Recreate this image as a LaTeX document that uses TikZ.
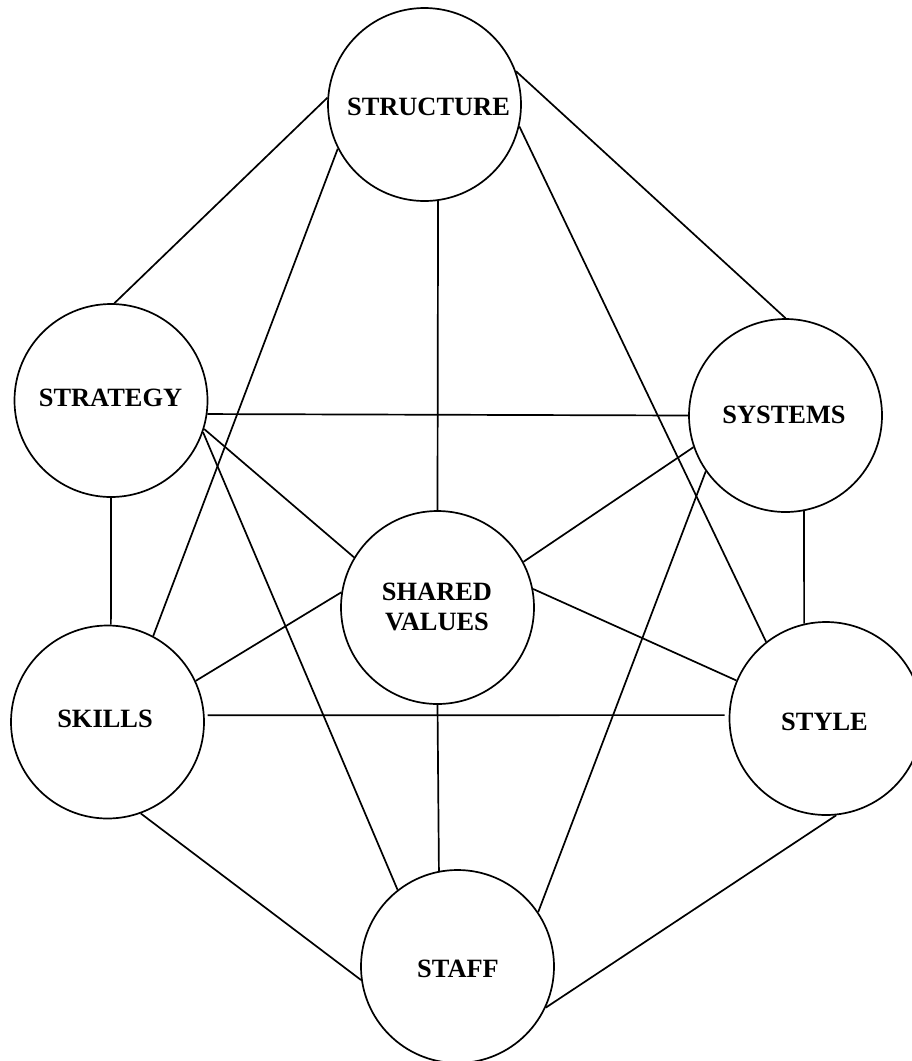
\documentclass[tikz,border=0pt]{standalone}
\usepackage{fontspec}
\setmainfont{Liberation Serif}
\begin{document}
\begin{tikzpicture}[x=1pt,y=-1pt,
  circ/.style={circle,draw=black,line width=1.7pt,minimum size=193pt,inner sep=0pt},
  lbl/.style={font=\fontsize{26.4}{30}\selectfont\bfseries,inner sep=0pt,align=center},
  link/.style={draw=black,line width=1.7pt}]
\useasboundingbox (0,0) rectangle (912,1061);

% the seven circles
\node[circ] (st) at (424.5,104.5) {};
\node[circ] (sg) at (111,400.5) {};
\node[circ] (sy) at (785.5,415.5) {};
\node[circ] (sv) at (437.5,607.5) {};
\node[circ] (sk) at (107.5,722) {};
\node[circ] (sl) at (826,718.5) {};
\node[circ] (sf) at (457.5,966.5) {};

% labels
\node[lbl,anchor=base] (tst) at (428.5,115) {STRUCTURE};
\node[lbl,anchor=base] (tsg) at (110.5,406) {STRATEGY};
\node[lbl,anchor=base] (tsy) at (784,423) {SYSTEMS};
\node[lbl] (tsv) at (437,606.5) {SHARED\\VALUES};
\node[lbl,anchor=base] (tsk) at (105,727) {SKILLS};
\node[lbl,anchor=base] (tsl) at (824.5,730) {STYLE};
\node[lbl,anchor=base] (tsf) at (458,977) {STAFF};

% connectors
\path[link] (st.176.1) -- (sg.88.8);
\path[link] (st.207.2) -- (sk.62.6);
\path[link] (st.-82) -- (sv.90);
\path[link] (st.20.5) -- (sy.90);
\path[link] (st.-13.4) -- (sl.128.5);

\path[link] (sg.-8.6) -- (sy.180);
\path[link] (sg.-17) -- (sv.149.2);
\path[link] (sg.-19.1) -- (sf.128.7);
\path[link] (sg.-90) -- (sk.88.5);

\path[link] (sy.199) -- (sv.28.5);
\path[link] (sy.215.4) -- (sf.34.1);
\path[link] (sy.-79.3) -- (sl.103.5);

\path[link] (sv.171.1) -- (sk.25.1);
\path[link] (sv.11.8) -- (sl.157.4);
\path[link] (sv.-90) -- (sf.101.8);

\path[link,shorten <=3pt,shorten >=4pt] (sk.4) -- (sl.178);
\path[link] (sk.-70.9) -- (sf.188.6);

\path[link] (sl.-84) -- (sf.-25.9);
\end{tikzpicture}
\end{document}
